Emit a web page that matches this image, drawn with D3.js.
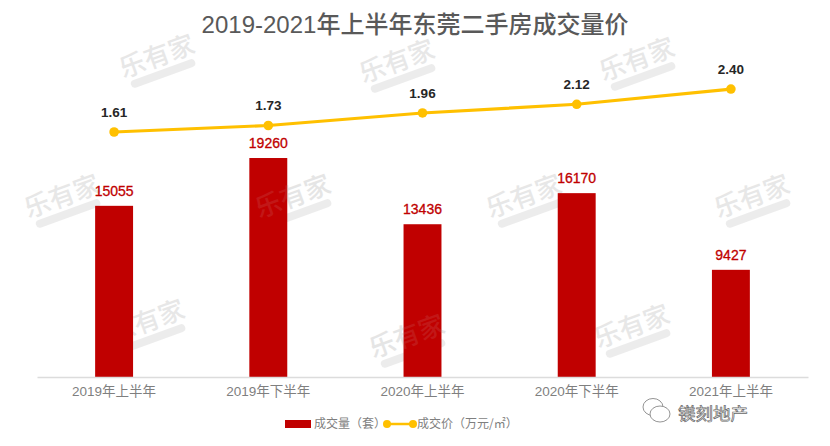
<!DOCTYPE html>
<html><head><meta charset="utf-8">
<script src="https://cdnjs.cloudflare.com/ajax/libs/d3/7.8.5/d3.min.js"></script>
<style>html,body{margin:0;padding:0;background:#fff}svg{display:block}text{font-family:"Noto Sans CJK SC","Liberation Sans",sans-serif}</style>
</head><body><svg id="c" width="830" height="446"></svg>
<script>
const categories=["2019年上半年","2019年下半年","2020年上半年","2020年下半年","2021年上半年"];
const volume=[15055,19260,13436,16170,9427];
const price=[1.61,1.73,1.96,2.12,2.40];
const priceLabels=["1.61","1.73","1.96","2.12","2.40"];
const titleText="2019-2021年上半年东莞二手房成交量价";
const legendBar="成交量（套）";
const legendLine="成交价（万元/㎡）";
const watermarks=[[160,65],[400,70],[640,68],[65,205],[296,205],[527,205],[755,205],[150,330],[410,345],[635,335]];

const svg=d3.select("#c");
const x=d3.scaleBand().domain(categories).range([37,808]).paddingInner(0.754).paddingOuter(0.377);
const y=d3.scaleLinear().domain([0,25000]).range([377,92.75]);
const y2=d3.scaleLinear().domain([1,3]).range([165.2,56.4]);
const cx=d=>x(d)+x.bandwidth()/2;

const wm=svg.append("g").selectAll("g").data(watermarks).join("g")
  .attr("transform",d=>`translate(${d[0]},${d[1]}) rotate(-20)`).attr("opacity",.55);
wm.append("text").attr("text-anchor","middle").attr("font-size",26).attr("font-weight",500).attr("fill","#d4d4d4").text("乐有家");
wm.append("rect").attr("x",-34).attr("y",5).attr("width",68).attr("height",8).attr("rx",4).attr("fill","#dedede");

svg.append("g").selectAll("rect").data(volume).join("rect")
  .attr("x",(d,i)=>x(categories[i])).attr("width",x.bandwidth())
  .attr("y",d=>y(d)).attr("height",d=>y(0)-y(d)).attr("fill","#c00000");
svg.append("g").selectAll("text").data(watermarks.filter(d=>d[0]==296||d[0]==410)).join("text")
  .attr("transform",d=>`translate(${d[0]},${d[1]}) rotate(-20)`)
  .attr("text-anchor","middle").attr("font-size",26).attr("font-weight",500).attr("fill","#dcdcdc").attr("opacity",.1).text("乐有家");

const ax=svg.append("g").attr("transform","translate(0,377)").call(d3.axisBottom(x).tickSize(0).tickPadding(9));
ax.select(".domain").attr("stroke","#dcdcdc").attr("stroke-width",1.5);
ax.selectAll("text").attr("font-size",13.5).attr("fill","#7f7f7f").style("font-family",'"Liberation Sans","Noto Sans CJK SC"');

svg.append("path").datum(price).attr("fill","none").attr("stroke","#ffc000").attr("stroke-width",3.2)
  .attr("d",d3.line().x((d,i)=>cx(categories[i])).y(d=>y2(d)));
svg.append("g").selectAll("circle").data(price).join("circle")
  .attr("cx",(d,i)=>cx(categories[i])).attr("cy",d=>y2(d)).attr("r",4.8).attr("fill","#ffc000");

svg.append("g").selectAll("text").data(volume).join("text")
  .attr("x",(d,i)=>cx(categories[i])).attr("y",d=>y(d)-10).attr("text-anchor","middle")
  .attr("font-size",14).attr("fill","#c00000").attr("stroke","#c00000").attr("stroke-width",.3)
  .style("font-family",'"Liberation Sans"').text(d=>d);
svg.append("g").selectAll("text").data(price).join("text")
  .attr("x",(d,i)=>cx(categories[i])).attr("y",d=>y2(d)-15).attr("text-anchor","middle")
  .attr("font-size",13.5).attr("font-weight",700).attr("fill","#262626")
  .style("font-family",'"Liberation Sans"').text((d,i)=>priceLabels[i]);

svg.append("text").attr("x",415).attr("y",33).attr("text-anchor","middle").attr("font-size",24).attr("font-weight",500).attr("fill","#595959")
  .style("font-family",'"Liberation Sans","Noto Sans CJK SC"').text(titleText);

const lg=svg.append("g");
lg.append("rect").attr("x",285).attr("y",420).attr("width",26).attr("height",8).attr("fill","#c00000");
lg.append("text").attr("x",314).attr("y",428).attr("font-size",12).attr("fill","#7f7f7f").text(legendBar);
lg.append("line").attr("x1",387).attr("x2",413).attr("y1",424).attr("y2",424).attr("stroke","#ffc000").attr("stroke-width",2.5);
lg.selectAll("circle").data([387,413]).join("circle").attr("cx",d=>d).attr("cy",424).attr("r",4).attr("fill","#ffc000");
lg.append("text").attr("x",417).attr("y",428).attr("font-size",12).attr("fill","#7f7f7f").text(legendLine);

const wc=svg.append("g").attr("fill","#fff").attr("stroke","#888").attr("stroke-width",.9);
wc.append("ellipse").attr("cx",653).attr("cy",407).attr("rx",10).attr("ry",8.5);
wc.append("ellipse").attr("cx",660).attr("cy",414).attr("rx",10).attr("ry",8);
svg.append("text").attr("x",678).attr("y",420).attr("font-size",17.5).attr("fill","#fff").attr("stroke","#666").attr("stroke-width",.7).text("镁刻地产");
</script></body></html>
